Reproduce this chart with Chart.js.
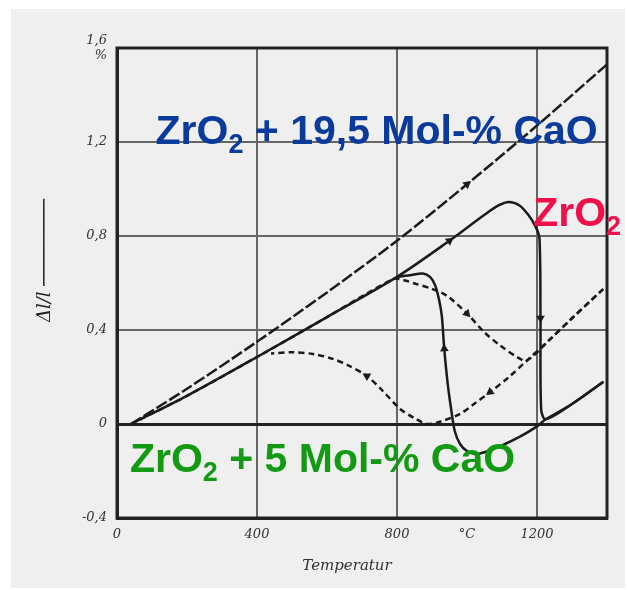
<!DOCTYPE html>
<html>
<head>
<meta charset="utf-8">
<script src="https://cdn.jsdelivr.net/npm/chart.js@4.4.1/dist/chart.umd.min.js"></script>
<style>
  body { margin: 0; background: #fff; }
  #wrap { position: absolute; left: 11px; top: 9px; width: 614px; height: 579px; background: #efefef; }
</style>
</head>
<body>
<div id="wrap"><canvas id="grafico" width="614" height="579"></canvas></div>
<script>
// Achsen
var xTicks = [0, 400, 800, 1000, 1200];
var xTickLabels = ['0', '400', '800', '°C', '1200'];
var yTicks = [-0.4, 0, 0.4, 0.8, 1.2, 1.6];
var yTickLabels = ['-0,4', '0', '0,4', '0,8', '1,2', ['1,6', '%']];

// ZrO2 + 19,5 Mol-% CaO (Heizen = Abkuehlen)
var ca195Temp = [40, 200, 400, 600, 800, 1000, 1200, 1400];
var ca195Dl = [0, 0.15, 0.35, 0.56, 0.78, 1.02, 1.27, 1.53];

// reines ZrO2, Heizen
var zrHeatTemp = [40, 200, 400, 600, 800, 950, 1050, 1090, 1120, 1150, 1175, 1196, 1207, 1210, 1212, 1225, 1300, 1390];
var zrHeatDl = [0, 0.12, 0.285, 0.455, 0.626, 0.78, 0.89, 0.93, 0.945, 0.93, 0.89, 0.84, 0.79, 0.45, 0.06, 0.02, 0.085, 0.18];
// reines ZrO2, Abkuehlen
var zrCoolTemp = [1390, 1300, 1225, 1200, 1150, 1094, 1050, 1023, 1000, 980, 965, 955, 945, 935, 928, 920, 909, 895, 874, 837, 800];
var zrCoolDl = [0.18, 0.085, 0.02, -0.01, -0.055, -0.095, -0.12, -0.128, -0.115, -0.085, -0.03, 0.06, 0.17, 0.32, 0.46, 0.53, 0.59, 0.625, 0.64, 0.633, 0.626];

// ZrO2 + 5 Mol-% CaO, Heizen
var ca5HeatTemp = [40, 200, 400, 600, 790, 820, 846, 900, 943, 1000, 1050, 1094, 1143, 1171, 1237, 1300, 1389];
var ca5HeatDl = [0, 0.12, 0.285, 0.455, 0.617, 0.612, 0.6, 0.575, 0.545, 0.47, 0.39, 0.335, 0.285, 0.27, 0.36, 0.45, 0.574];
// ZrO2 + 5 Mol-% CaO, Abkuehlen
var ca5CoolTemp = [1389, 1300, 1237, 1171, 1120, 1066, 1020, 980, 923, 886, 850, 809, 760, 714, 660, 617, 560, 500, 440];
var ca5CoolDl = [0.574, 0.45, 0.36, 0.27, 0.2, 0.136, 0.085, 0.043, 0.01, 0, 0.025, 0.064, 0.14, 0.204, 0.25, 0.277, 0.298, 0.305, 0.3];

function punkte(t, d) {
    return t.map(function(v, i) { return {x: v, y: d[i]}; });
}

// Pfeilrichtung: vom Punkt zum naechsten Punkt der Kurve
function pfeilWinkel(ctx) {
    var d = ctx.dataset.data;
    var i = ctx.dataIndex;
    var j = Math.min(i + 1, d.length - 1);
    if (j === i) i = i - 1;
    var xs = ctx.chart.scales.x, ys = ctx.chart.scales.y;
    var dx = xs.getPixelForValue(d[j].x) - xs.getPixelForValue(d[i].x);
    var dy = ys.getPixelForValue(d[j].y) - ys.getPixelForValue(d[i].y);
    return Math.atan2(dy, dx) * 180 / Math.PI + 90;
}

function linie(t, d, dash, pfeile) {
    return {
        data: punkte(t, d),
        showLine: true,
        borderColor: '#1b1b1b',
        backgroundColor: '#1b1b1b',
        borderWidth: 2.5,
        borderDash: dash,
        tension: 0.3,
        fill: false,
        pointStyle: 'triangle',
        pointBorderWidth: 0,
        pointRadius: function(ctx) { return pfeile.indexOf(ctx.dataIndex) >= 0 ? 5 : 0; },
        pointRotation: pfeilWinkel
    };
}

var dados = {
    datasets: [
        linie(ca195Temp, ca195Dl, [12, 3], [5]),
        linie(zrHeatTemp, zrHeatDl, [], [5, 13]),
        linie(zrCoolTemp, zrCoolDl, [], [13]),
        linie(ca5HeatTemp, ca5HeatDl, [6, 4], [9]),
        linie(ca5CoolTemp, ca5CoolDl, [6, 4], [5, 13])
    ]
};

// Beschriftungen der Kurven
var beschriftungen = [
    {text: 'ZrO', sub: '2', rest: ' + 19,5 Mol-% CaO', x: 110, y: 1.19, color: '#0a3a9c'},
    {text: 'ZrO', sub: '2', rest: '', x: 1189, y: 0.843, color: '#f2104a'},
    {text: 'ZrO', sub: '2', rest: ' + 5 Mol-% CaO', x: 37, y: -0.204, color: '#129a12'}
];

var textPlugin = {
    id: 'texte',
    beforeDatasetsDraw: function(chart) {
        var a = chart.chartArea;
        var c = chart.ctx;
        c.save();
        c.strokeStyle = '#222';
        c.lineWidth = 3;
        c.strokeRect(a.left, a.top, a.right - a.left, a.bottom - a.top);
        c.restore();
    },
    afterDatasetsDraw: function(chart) {
        var c = chart.ctx;
        var xs = chart.scales.x, ys = chart.scales.y;
        c.save();
        c.textBaseline = 'alphabetic';
        beschriftungen.forEach(function(b) {
            var px = xs.getPixelForValue(b.x);
            var py = ys.getPixelForValue(b.y);
            c.fillStyle = b.color;
            c.font = 'bold 41px "Liberation Sans", Arial, sans-serif';
            c.fillText(b.text, px, py);
            px += c.measureText(b.text).width;
            c.font = 'bold 27px "Liberation Sans", Arial, sans-serif';
            c.fillText(b.sub, px, py + 9);
            px += c.measureText(b.sub).width;
            c.font = 'bold 41px "Liberation Sans", Arial, sans-serif';
            c.fillText(b.rest, px, py);
        });
        c.restore();
    }
};

var tickFont = {family: '"DejaVu Serif", serif', style: 'italic', size: 13};

var options = {
    responsive: false,
    animation: false,
    layout: {padding: {left: 0, top: 39, right: 18, bottom: 0}},
    plugins: {legend: {display: false}, tooltip: {enabled: false}},
    scales: {
        x: {
            type: 'linear',
            min: 0,
            max: 1400,
            afterBuildTicks: function(s) { s.ticks = xTicks.map(function(v) { return {value: v}; }); },
            afterFit: function(s) { s.height = 70; },
            ticks: {
                font: tickFont,
                color: '#333',
                padding: 9,
                maxRotation: 0,
                callback: function(v) { return xTickLabels[xTicks.indexOf(v)]; }
            },
            grid: {
                drawTicks: false,
                color: function(ctx) { return ctx.tick && ctx.tick.value % 400 === 0 ? '#666' : 'rgba(0,0,0,0)'; },
                lineWidth: 2
            },
            border: {color: '#222', width: 3},
            title: {
                display: true,
                text: 'Temperatur\u2003\u2003',
                font: {family: '"DejaVu Serif", serif', style: 'italic', size: 15},
                color: '#333',
                padding: {bottom: 13}
            }
        },
        y: {
            type: 'linear',
            min: -0.4,
            max: 1.6,
            afterBuildTicks: function(s) { s.ticks = yTicks.map(function(v) { return {value: v}; }); },
            afterFit: function(s) { s.width = 106; },
            ticks: {
                font: tickFont,
                color: '#333',
                padding: 10,
                callback: function(v) { return yTickLabels[yTicks.indexOf(Math.round(v * 10) / 10)]; }
            },
            grid: {
                drawTicks: false,
                color: function(ctx) { return ctx.tick && ctx.tick.value === 0 ? '#222' : '#666'; },
                lineWidth: function(ctx) { return ctx.tick && ctx.tick.value === 0 ? 3 : 2; }
            },
            border: {color: '#222', width: 3},
            title: {
                display: true,
                text: '\u2002\u2002\u2002\u2002\u2002Δl/l \u2500\u2500\u2500\u2500\u2500\u2500\u2500\u2500',
                font: {family: '"DejaVu Serif", serif', style: 'italic', size: 18},
                color: '#222',
                padding: {top: 24}
            }
        }
    }
};

var ctx = document.getElementById('grafico').getContext('2d');
var graficoChart = new Chart(ctx, {
    type: 'scatter',
    data: dados,
    options: options,
    plugins: [textPlugin]
});
</script>
</body>
</html>
